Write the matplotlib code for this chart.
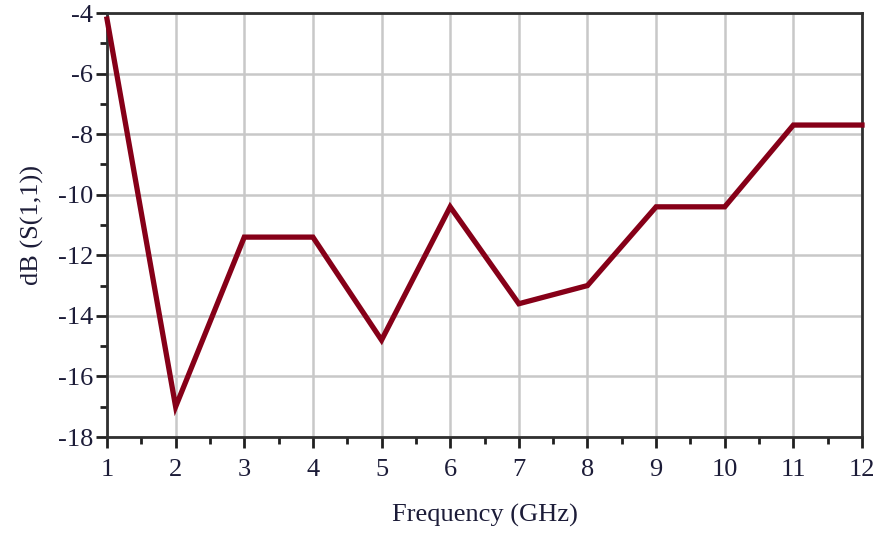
import matplotlib
matplotlib.use("Agg")
import matplotlib.pyplot as plt
from matplotlib.ticker import MultipleLocator

# Return loss of the antenna across the band
freq_ghz = [1, 2, 3, 4, 5, 6, 7, 8, 9, 10, 11, 12]
s11_db = [-4.2, -17.0, -11.4, -11.4, -14.8, -10.4, -13.6, -13.0, -10.4, -10.4, -7.7, -7.7]

x_ticks = list(range(1, 13))
y_ticks = [-18, -16, -14, -12, -10, -8, -6, -4]

text_color = "#1c1c38"
plt.rcParams["font.family"] = ["Liberation Serif", "DejaVu Serif"]
plt.rcParams["axes.unicode_minus"] = False

fig = plt.figure(figsize=(8.8, 5.33), dpi=100)
ax = fig.add_axes([107 / 880, 1 - 437 / 533, (862 - 107) / 880, (437 - 13) / 533])

ax.plot(freq_ghz, s11_db, color="#860018", linewidth=3.8, solid_joinstyle="miter",
        zorder=3, clip_on=False)

ax.set_xlim(1, 12)
ax.set_ylim(-18, -4)
ax.set_xticks(x_ticks)
ax.set_yticks(y_ticks)
ax.xaxis.set_minor_locator(MultipleLocator(0.5))
ax.yaxis.set_minor_locator(MultipleLocator(1))

ax.grid(True, which="major", color="#c8c8c8", linewidth=1.8, zorder=0)
for side in ["left", "bottom", "top", "right"]:
    ax.spines[side].set_color("#303030")
    ax.spines[side].set_linewidth(2.0)

ax.tick_params(axis="both", which="major", direction="out", length=8, width=2,
               color="#202020", labelsize=19, labelcolor=text_color)
ax.tick_params(axis="x", which="major", pad=8)
ax.tick_params(axis="y", which="major", pad=2)
ax.tick_params(axis="both", which="minor", direction="out", length=5, width=2,
               color="#202020")

ax.set_xlabel("Frequency (GHz)", fontsize=19, color=text_color, labelpad=16)
ax.set_ylabel("dB (S(1,1))", fontsize=19, color=text_color, labelpad=10)

fig.savefig("out.png", dpi=100, facecolor="white")
